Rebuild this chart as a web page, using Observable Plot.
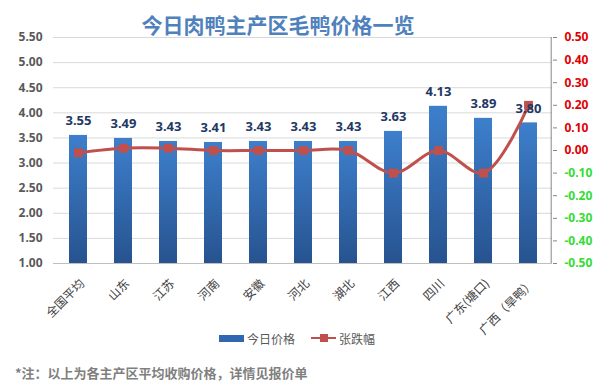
<!DOCTYPE html>
<html><head><meta charset="utf-8">
<script src="https://cdn.jsdelivr.net/npm/d3@7"></script>
<script src="https://cdn.jsdelivr.net/npm/@observablehq/plot@0.6"></script>
<style>
body{margin:0;background:#fff;font-family:"Noto Sans CJK SC","Noto Sans",sans-serif;}
#wrap{position:relative;width:594px;height:386px;overflow:hidden;background:#fff;}
#chart{position:absolute;left:0;top:0;}
#title{position:absolute;left:0;width:556px;top:10px;text-align:center;font-size:21px;font-weight:bold;color:#4f81bd;line-height:28px;}
#legend{position:absolute;top:329px;left:219px;height:18px;display:flex;align-items:center;font-size:12px;color:#595959;white-space:nowrap;}
#legend .sw{display:inline-block;width:25px;height:7px;background:#2f67b0;margin-right:3px;}
#legend .ln{position:relative;display:inline-block;width:25px;height:2px;background:#c0504d;margin:0 3px 0 16px;}
#legend .ln i{position:absolute;left:9px;top:-3px;width:8px;height:8px;background:#c0504d;}
#note{position:absolute;left:15px;top:364px;font-size:13px;font-weight:bold;color:#7f7f7f;white-space:nowrap;line-height:18px;}
</style></head><body>
<div id="wrap">
<div id="chart"></div>
<div id="title">今日肉鸭主产区毛鸭价格一览</div>
<div id="legend"><span class="sw"></span><span>今日价格</span><span class="ln"><i></i></span><span>张跌幅</span></div>
<div id="note">*注：以上为各主产区平均收购价格，详情见报价单</div>
</div>
<script>
const categories = ["全国平均","山东","江苏","河南","安徽","河北","湖北","江西","四川","广东(塘口)","广西（旱鸭）"];
const prices = [3.55,3.49,3.43,3.41,3.43,3.43,3.43,3.63,4.13,3.89,3.80];
const changes = [-0.01,0.01,0.01,0.00,0.00,0.00,0.00,-0.10,0.00,-0.10,0.20];
const leftTicks = [1.00,1.50,2.00,2.50,3.00,3.50,4.00,4.50,5.00,5.50];
const rightTicks = [-0.50,-0.40,-0.30,-0.20,-0.10,0.00,0.10,0.20,0.30,0.40,0.50];

const data = categories.map((c,i)=>({cat:c, price:prices[i], chg:changes[i]}));
const toLeft = v => 1 + (v + 0.5) * 4.5;

const W = 594, ML = 53, MR = 42;
const step = (W - ML - MR) / categories.length;

const plot = Plot.plot({
  width: W, height: 350,
  marginLeft: ML, marginRight: MR, marginTop: 37, marginBottom: 87,
  style: {fontFamily: '"Noto Sans","Noto Sans CJK SC",sans-serif', fontSize: "12px", background: "transparent"},
  x: {domain: categories, paddingInner: 0.6, paddingOuter: 0.3, label: null},
  y: {domain: [1, 5.5], label: null},
  color: {type: "identity"},
  marks: [
    Plot.ruleY(leftTicks.slice(1), {stroke: "#d9d9d9", strokeWidth: 1}),
    Plot.ruleY([1], {stroke: "#bfbfbf", strokeWidth: 1}),
    Plot.ruleX([categories[categories.length-1]], {dx: step/2, stroke: "#868686"}),
    Plot.axisY(rightTicks.map(toLeft), {anchor: "right", tickSize: 4, tickFormat: () => "", stroke: "#868686"}),
    Plot.text(rightTicks, {y: d => toLeft(d), frameAnchor: "right", dx: 12, textAnchor: "start",
      text: d => d.toFixed(2), fill: d => d < 0 ? "#33dd33" : "#e00000", fontWeight: "bold", fontSize: 12}),
    Plot.axisY(leftTicks, {anchor: "left", tickSize: 0, tickPadding: 11, tickFormat: d => d.toFixed(2),
      fill: "#595959", fontWeight: "bold", fontSize: 12}),
    Plot.axisX({tickRotate: -45, tickSize: 0, tickPadding: 18, dx: 4, fill: "#404040", fontSize: 12,
      fontFamily: '"Noto Sans CJK SC",sans-serif'}),
    Plot.barY(data, {x: "cat", y1: 1, y2: "price", fill: "url(#barGrad)"}),
    Plot.line(data, {x: "cat", y: d => toLeft(d.chg), stroke: "#c0504d", strokeWidth: 3, curve: "catmull-rom"}),
    Plot.dot(data, {x: "cat", y: d => toLeft(d.chg), symbol: "square", r: 5, fill: "#c0504d", stroke: "none"}),
    Plot.text(data, {x: "cat", y: "price", text: d => d.price.toFixed(2), dy: -14.5,
      fontWeight: "bold", fontSize: 13, fill: "#1f3864"})
  ]
});

d3.select(plot).insert("defs", ":first-child").html(
  '<linearGradient id="barGrad" x1="0" y1="0" x2="0" y2="1">' +
  '<stop offset="0" stop-color="#3d7fcc"/><stop offset="1" stop-color="#27538f"/></linearGradient>');

document.getElementById("chart").appendChild(plot);
</script>
</body></html>
